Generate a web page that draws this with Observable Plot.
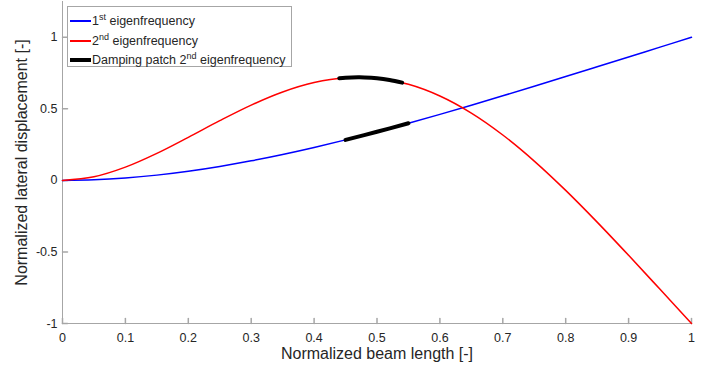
<!DOCTYPE html>
<html>
<head>
<meta charset="utf-8">
<script src="https://cdn.jsdelivr.net/npm/d3@7"></script>
<script src="https://cdn.jsdelivr.net/npm/@observablehq/plot@0.6"></script>
<style>
  body { margin: 0; background: #fff; font-family: "Liberation Sans", Arial, sans-serif; }
  #wrap { position: relative; width: 718px; height: 374px; }
  .legend { position: absolute; left: 67px; top: 6px; width: 225px; height: 61px; border: 1px solid #a6a6a6;
            background: #fff; box-sizing: border-box; font-size: 12.5px; color: #262626; }
  .row { position: absolute; left: 0; width: 100%; height: 16px; }
  .sw { position: absolute; left: 2px; width: 21px; }
  .lbl { position: absolute; left: 24px; top: 0; line-height: 16px; white-space: nowrap; }
  .lbl sup { font-size: 9px; line-height: 0; vertical-align: 5px; }
</style>
</head>
<body>
<div id="wrap"></div>
<script>
// ---- data ----
const xs = [0, 0.05, 0.1, 0.15, 0.2, 0.25, 0.3, 0.35, 0.4, 0.45, 0.5,
            0.55, 0.6, 0.65, 0.7, 0.75, 0.8, 0.85, 0.9, 0.95, 1];
const mode1 = [0, 0.0043, 0.0168, 0.0368, 0.0639, 0.0973, 0.1365, 0.1809, 0.2299, 0.2830, 0.3395,
               0.3991, 0.4611, 0.5252, 0.5909, 0.6577, 0.7255, 0.7938, 0.8624, 0.9312, 1.0];
const mode2 = [0, 0.0254, 0.0926, 0.1888, 0.3011, 0.4173, 0.5261, 0.6177, 0.6835, 0.7170, 0.7137,
               0.6712, 0.5895, 0.4702, 0.3171, 0.1350, -0.0700, -0.2917, -0.5237, -0.7611, -1.0];
// damping patch segments
const patch2X = [0.44, 0.45, 0.47, 0.48, 0.50, 0.52, 0.54];
const patch2Y = [0.7131, 0.7170, 0.7202, 0.7196, 0.7137, 0.7014, 0.6829];
const patch1X = [0.45, 0.50, 0.55];
const patch1Y = [0.2830, 0.3395, 0.3991];

const xTicks = [0, 0.1, 0.2, 0.3, 0.4, 0.5, 0.6, 0.7, 0.8, 0.9, 1];
const xTickLabels = ["0", "0.1", "0.2", "0.3", "0.4", "0.5", "0.6", "0.7", "0.8", "0.9", "1"];
const yTicks = [-1, -0.5, 0, 0.5, 1];
const yTickLabels = ["-1", "-0.5", "0", "0.5", "1"];

const seriesNames = ["1st eigenfrequency", "2nd eigenfrequency", "Damping patch 2nd eigenfrequency"];
const seriesColors = ["#0000ff", "#ff0000", "#000000"];
const xLabel = "Normalized beam length [-]";
const yLabel = "Normalized lateral displacement [-]";

// ---- tables ----
const t1 = xs.map((x, i) => ({x, y: mode1[i]}));
const t2 = xs.map((x, i) => ({x, y: mode2[i]}));
const p1 = patch1X.map((x, i) => ({x, y: patch1Y[i]}));
const p2 = patch2X.map((x, i) => ({x, y: patch2Y[i]}));

const axisColor = "#a6a6a6";
const tickShape = { draw(ctx, l) { ctx.moveTo(0, 0); ctx.lineTo(0, -l); } };

const chart = Plot.plot({
  width: 718, height: 374,
  marginLeft: 62, marginRight: 27, marginTop: 1, marginBottom: 51,
  x: {domain: [0, 1]},
  y: {domain: [-1, 1.25]},
  style: {fontFamily: "Liberation Sans, Arial, sans-serif", fontSize: "12.5px", color: "#262626", background: "#fff"},
  marks: [
    Plot.ruleX([0], {stroke: axisColor, strokeWidth: 1}),
    Plot.ruleY([-1], {stroke: axisColor, strokeWidth: 1}),
    Plot.vector(xTicks, {x: d => d, y: () => -1, length: 5, rotate: 0, anchor: "start", stroke: axisColor, shape: tickShape}),
    Plot.vector(yTicks, {x: () => 0, y: d => d, length: 5, rotate: 90, anchor: "start", stroke: axisColor, shape: tickShape}),
    Plot.axisX({ticks: xTicks, tickFormat: d => xTickLabels[xTicks.indexOf(d)], tickSize: 0, tickPadding: 10, label: null}),
    Plot.axisY({ticks: yTicks, tickFormat: d => yTickLabels[yTicks.indexOf(d)], tickSize: 0, tickPadding: 5, label: null}),
    Plot.line(t1, {x: "x", y: "y", stroke: seriesColors[0], strokeWidth: 1.5, curve: "catmull-rom"}),
    Plot.line(t2, {x: "x", y: "y", stroke: seriesColors[1], strokeWidth: 1.5, curve: "catmull-rom"}),
    Plot.line(p2, {x: "x", y: "y", stroke: seriesColors[2], strokeWidth: 4, curve: "catmull-rom"}),
    Plot.line(p1, {x: "x", y: "y", stroke: seriesColors[2], strokeWidth: 4, curve: "catmull-rom"}),
    Plot.text([xLabel], {frameAnchor: "bottom", dy: 35, fontSize: 16, fill: "#262626", textAnchor: "middle"}),
    Plot.text([yLabel], {frameAnchor: "left", dx: -41, rotate: -90, fontSize: 16, fill: "#262626", textAnchor: "middle"})
  ]
});

const wrap = document.getElementById("wrap");
wrap.appendChild(chart);

// ---- legend (inside the plot, top-left) ----
const legend = document.createElement("div");
legend.className = "legend";
const rowTops = [6, 26, 45];
const swH = [1.5, 1.5, 4];
seriesNames.forEach((name, i) => {
  const row = document.createElement("div");
  row.className = "row";
  row.style.top = rowTops[i] + "px";
  const sw = document.createElement("div");
  sw.className = "sw";
  sw.style.height = swH[i] + "px";
  sw.style.top = (8 - swH[i] / 2) + "px";
  sw.style.background = seriesColors[i];
  const lbl = document.createElement("div");
  lbl.className = "lbl";
  // render ordinal suffixes ("st", "nd") as superscripts
  lbl.innerHTML = name.replace(/(\d)(st|nd|rd|th)\b/g, "$1<sup>$2</sup>");
  row.appendChild(sw);
  row.appendChild(lbl);
  legend.appendChild(row);
});
wrap.appendChild(legend);
</script>
</body>
</html>
